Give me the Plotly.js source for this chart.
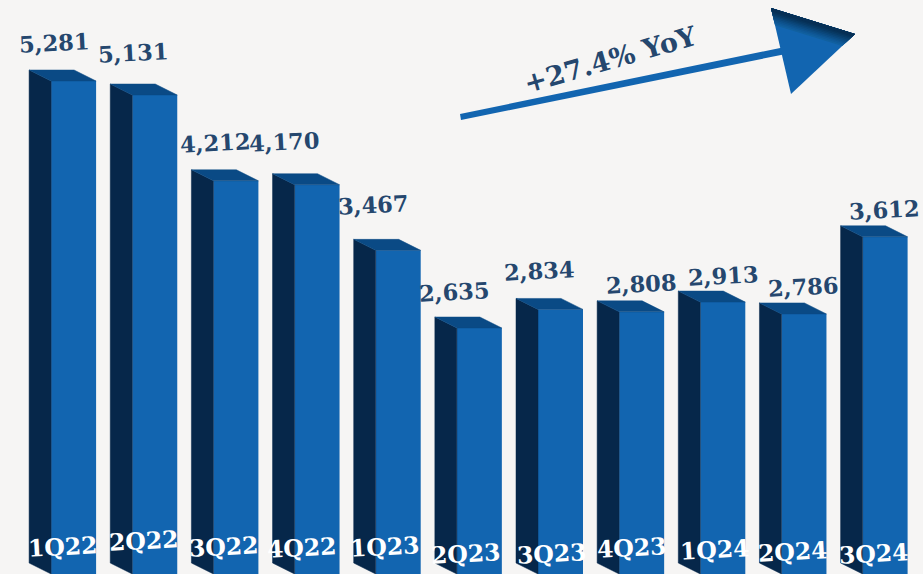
<!DOCTYPE html>
<html>
<head>
<meta charset="utf-8">
<script src="https://cdn.plot.ly/plotly-3.0.1.min.js"></script>
<style>html,body{margin:0;padding:0;background:#f6f5f4}#chart{width:923px;height:574px}</style>
</head>
<body>
<div id="chart"></div>
<script>
// Quarterly figures
const quarters = ['1Q22','2Q22','3Q22','4Q22','1Q23','2Q23','3Q23','4Q23','1Q24','2Q24','3Q24'];
const values = [5281,5131,4212,4170,3467,2635,2834,2808,2913,2786,3612];
const valueLabels = ['5,281','5,131','4,212','4,170','3,467','2,635','2,834','2,808','2,913','2,786','3,612'];

// Label nudges in pixels, relative to each column
const valueShiftX = [-19.5,-22,-20.7,-33,-24.9,-25,-22,-1,0,-1,-1.5];
const valueShiftY = [38,42,38,43,45,36,38,28,26,27,27];
const quarterShiftX = [-10.5,-10.6,-11.7,-14.8,-12.9,-13,-9,-10,-8.3,-11.4,-11.5];
const quarterShiftY = [27,33,27,26,27,20,20,26,24,22,20];

const W = 923, H = 574;
const pxPerSlot = 81.15, pxPerUnit = 0.09335, firstCentre = 73.6;
const barWidth = 45 / pxPerSlot;
const depthX = 22 / pxPerSlot, depthY = 11 / pxPerUnit;
const slots = quarters.map((_, i) => i);

// Extruded faces of each column, offset back and to the left by the depth
const sideX = [], sideY = [], topX = [], topY = [];
slots.forEach(i => {
  const l = i - barWidth / 2, r = i + barWidth / 2, v = values[i];
  sideX.push(l, l - depthX, l - depthX, l, l, null);
  sideY.push(v, v + depthY, depthY, 0, v, null);
  topX.push(l, l - depthX, r - depthX, r, l, null);
  topY.push(v, v + depthY, v + depthY, v, v, null);
});

const face = (x, y, color) => ({
  x, y, type: 'scatter', mode: 'lines', fill: 'toself', fillcolor: color,
  line: {width: 0.5, color}, hoverinfo: 'skip', showlegend: false
});

const traces = [
  {x: slots, y: values, type: 'bar', width: barWidth,
   marker: {color: '#1265b0', line: {width: 0}}, hoverinfo: 'skip', showlegend: false},
  face(sideX, sideY, '#06274a'),
  face(topX, topY, '#0a4a85')
];

const serif = 'DejaVu Serif, serif';
const annotations = [];
slots.forEach(i => {
  annotations.push({
    x: i, y: values[i], xref: 'x', yref: 'y', text: '<b>' + valueLabels[i] + '</b>', showarrow: false,
    xanchor: 'center', yanchor: 'middle', xshift: valueShiftX[i], yshift: valueShiftY[i], textangle: -3,
    font: {family: serif, size: 22.5, color: '#25476e'}
  });
  annotations.push({
    x: i, y: 0, xref: 'x', yref: 'y', text: '<b>' + quarters[i] + '</b>', showarrow: false,
    xanchor: 'center', yanchor: 'middle', xshift: quarterShiftX[i], yshift: quarterShiftY[i], textangle: -3,
    font: {family: serif, size: 23.5, color: '#ffffff'}
  });
});
annotations.push({
  x: 610 / W, y: 1 - 59 / H, xref: 'paper', yref: 'paper', text: '<b>+27.4% YoY</b>', showarrow: false,
  xanchor: 'center', yanchor: 'middle', textangle: -16,
  font: {family: serif, size: 27, color: '#25476e'}
});

// Growth arrow, in page pixels mapped to paper space
const px = (x, y) => (x / W) + ',' + (1 - y / H);
const poly = pts => 'M' + pts.map(p => px(p[0], p[1])).join('L') + 'Z';
const tip = [855, 34], back = [771, 8], low = [791, 94];
const arrowPart = (path, fillcolor) => ({
  type: 'path', xref: 'paper', yref: 'paper', layer: 'above', line: {width: 0}, fillcolor, path
});
const shapes = [
  arrowPart(poly([[460, 114], [785, 47], [786, 54], [461, 120]]), '#1265b0'),
  arrowPart(poly([back, tip, low]), '#1265b0')
];

// Bevel along the upper edge of the arrow head, widest and lightest band first
const bevelBands = [
  [0.20,'#11609f'],[0.18,'#0f5a99'],[0.16,'#0e5490'],[0.14,'#0c4e86'],
  [0.12,'#0b477b'],[0.10,'#094170'],[0.08,'#083a65'],[0.06,'#07345c'],[0.04,'#062f55']
];
bevelBands.forEach(([t, color]) => {
  const a = [back[0] + (low[0] - back[0]) * t, back[1] + (low[1] - back[1]) * t];
  const b = [tip[0] + (low[0] - tip[0]) * t, tip[1] + (low[1] - tip[1]) * t];
  shapes.push(arrowPart(poly([back, tip, b, a]), color));
});

const layout = {
  width: W, height: H,
  margin: {l: 0, r: 0, t: 0, b: 0},
  paper_bgcolor: '#f6f5f4', plot_bgcolor: '#f6f5f4',
  showlegend: false,
  xaxis: {range: [-firstCentre / pxPerSlot, (W - firstCentre) / pxPerSlot], visible: false, fixedrange: true},
  yaxis: {range: [0, H / pxPerUnit], visible: false, fixedrange: true},
  annotations, shapes
};

Plotly.newPlot('chart', traces, layout, {displayModeBar: false, staticPlot: true});
</script>
</body>
</html>
